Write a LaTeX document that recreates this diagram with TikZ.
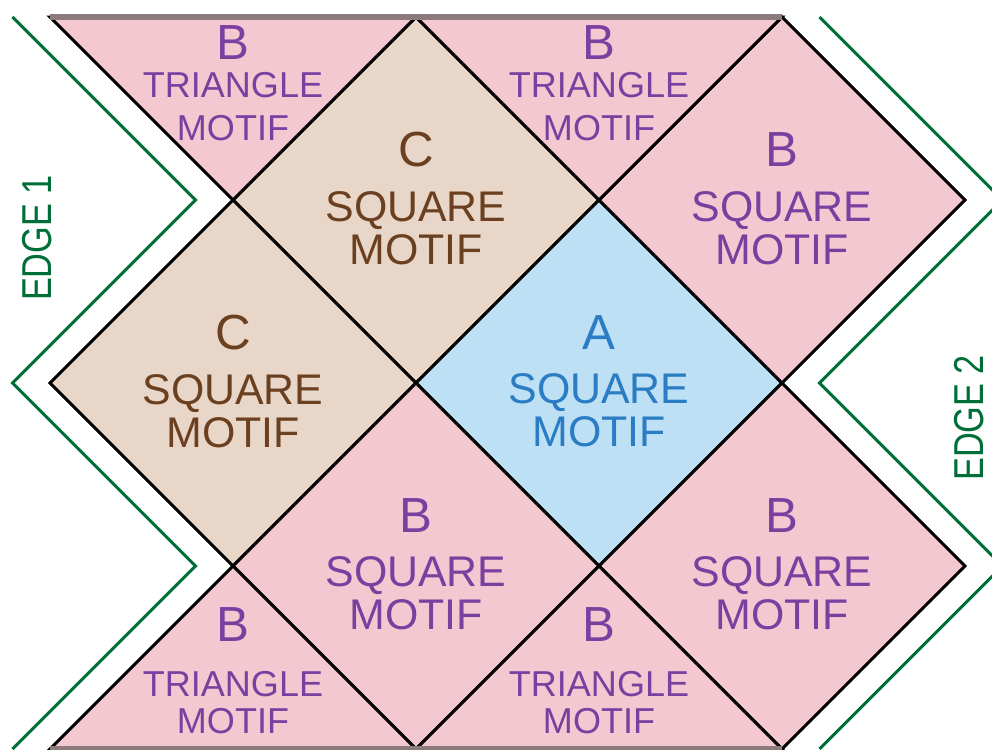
\documentclass[tikz,border=0pt]{standalone}
\usepackage{fontspec}
\setmainfont{Liberation Sans}
\newfontfamily\edgefont[FakeStretch=0.82]{Liberation Sans}
\usetikzlibrary{calc}
\definecolor{tilepink}{HTML}{F4C8D0}
\definecolor{tiletan}{HTML}{E8D6C8}
\definecolor{tileblue}{HTML}{BEE0F4}
\definecolor{inkpurple}{HTML}{7B3FA0}
\definecolor{inkbrown}{HTML}{6B4020}
\definecolor{inkblue}{HTML}{2A7CC4}
\definecolor{edgegreen}{HTML}{006E37}
\definecolor{rimgray}{HTML}{8C7A7D}
\newcommand{\tileletter}[1]{{\fontsize{23}{20}\selectfont #1}}

\begin{document}
\begin{tikzpicture}[x=3cm,y=3cm,
  tile/.style={draw=black,line width=1.4pt,line join=miter},
  rim/.style={draw=rimgray,line width=2.6pt},
  edge line/.style={draw=edgegreen,line width=1.4pt,line join=miter},
  sq label/.style={align=center,inner sep=0pt,font=\fontsize{20}{20}\selectfont},
  tri label/.style={align=center,inner sep=0pt,text=inkpurple,
                    font=\fontsize{16.8}{17.7}\selectfont},
  edge label/.style={rotate=90,inner sep=0pt,text=edgegreen,
                     font=\edgefont\fontsize{19.5}{20}\selectfont}]
  \useasboundingbox (-0.2732,-4.0) rectangle (5.1475,0.0929);

  % square tiles
  \foreach \cx/\cy/\col in {2/-1/tiletan, 1/-2/tiletan, 3/-2/tileblue,
                            4/-1/tilepink, 2/-3/tilepink, 4/-3/tilepink}
    \filldraw[tile,fill=\col] (\cx-1,\cy) -- (\cx,\cy+1) -- (\cx+1,\cy)
      -- (\cx,\cy-1) -- cycle;

  % triangle tiles
  \filldraw[tile,fill=tilepink] (0,0) -- (2,0) -- (1,-1) -- cycle;
  \filldraw[tile,fill=tilepink] (2,0) -- (4,0) -- (3,-1) -- cycle;
  \filldraw[tile,fill=tilepink] (1,-3) -- (2,-4) -- (0,-4) -- cycle;
  \filldraw[tile,fill=tilepink] (3,-3) -- (4,-4) -- (2,-4) -- cycle;

  % top and bottom rims
  \draw[rim] (0,0) -- (4,0);
  \draw[rim] (0,-4) -- (4,-4);

  % edges
  \draw[edge line] (-0.205,0) -- (0.795,-1) -- (-0.205,-2) -- (0.795,-3) -- (-0.205,-4);
  \draw[edge line] (4.205,0) -- (5.205,-1) -- (4.205,-2) -- (5.205,-3) -- (4.205,-4);

  % labels
  \node[sq label,text=inkblue] (lblA) at (3,-1.99) {\tileletter{A}\\[5.6pt] SQUARE\\ MOTIF};
  \node[sq label,text=inkbrown] (lblCup) at (2,-0.993) {\tileletter{C}\\[5.6pt] SQUARE\\ MOTIF};
  \node[sq label,text=inkbrown] (lblCdown) at (1,-1.99) {\tileletter{C}\\[5.6pt] SQUARE\\ MOTIF};
  \node[sq label,text=inkpurple] (lblBup) at (4,-0.993) {\tileletter{B}\\[5.6pt] SQUARE\\ MOTIF};
  \node[sq label,text=inkpurple] (lblBmid) at (2,-2.99) {\tileletter{B}\\[5.6pt] SQUARE\\ MOTIF};
  \node[sq label,text=inkpurple] (lblBdown) at (4,-2.99) {\tileletter{B}\\[5.6pt] SQUARE\\ MOTIF};
  \node[tri label] (triTL) at (1,-0.361) {\tileletter{B}\\ TRIANGLE\\[2.3pt] MOTIF};
  \node[tri label] (triTR) at (3,-0.361) {\tileletter{B}\\ TRIANGLE\\[2.3pt] MOTIF};
  \node[tri label] (triBL) at (1,-3.574) {\tileletter{B}\\[7.9pt] TRIANGLE\\[-0.5pt] MOTIF};
  \node[tri label] (triBR) at (3,-3.574) {\tileletter{B}\\[7.9pt] TRIANGLE\\[-0.5pt] MOTIF};
  \node[edge label] (edge1) at (-0.071,-1.208) {EDGE 1};
  \node[edge label] (edge2) at (5.02,-2.191) {EDGE 2};
\end{tikzpicture}
\end{document}
